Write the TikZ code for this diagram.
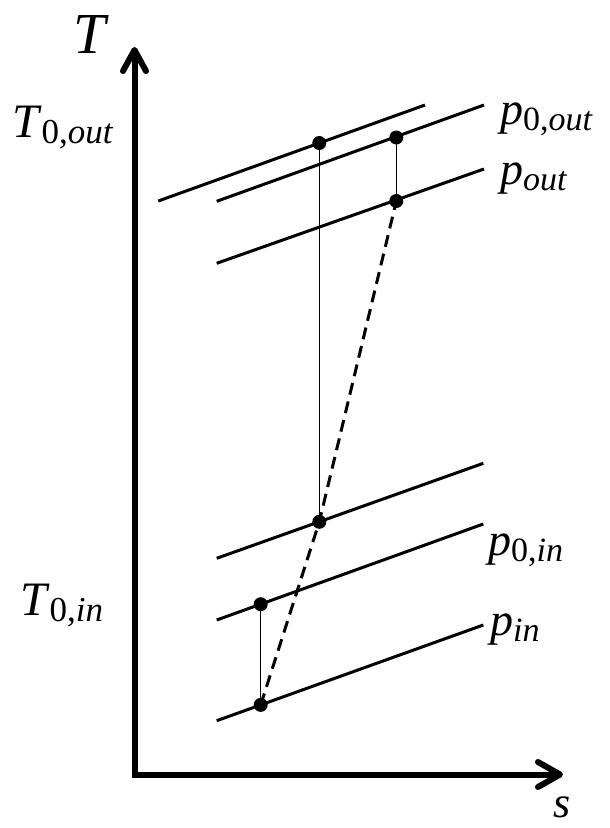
\documentclass[tikz,border=0pt]{standalone}
\usepackage{fontspec}
\setmainfont{Liberation Serif}
% main letter (italic) with a lowered, smaller subscript
\newcommand{\lblsub}[3]{\textit{#1}\raisebox{-6pt}{\fontsize{#3}{#3}\selectfont #2}}
\tikzset{
  isoline/.style={line width=3pt},
  axisline/.style={line width=6pt, line join=miter},
  tiphead/.style={line width=6pt, line cap=round, line join=round},
  thinline/.style={line width=1pt},
  dashline/.style={line width=3pt, dash pattern=on 12pt off 7pt},
  statedot/.style={circle, fill=black, inner sep=0pt, minimum size=14pt},
  lbl/.style={inner sep=0pt, anchor=base west},
  tlbl/.style={lbl, font=\fontsize{48}{56}\selectfont},
  plbl/.style={lbl, font=\fontsize{46}{54}\selectfont},
}
\begin{document}
\begin{tikzpicture}[x=1pt,y=-1pt]
\useasboundingbox (0,0) rectangle (610,828);
% axes
\coordinate (O) at (134.5,774.5);
\coordinate (Ttip) at (134.5,50);
\coordinate (Stip) at (560,774.5);
\draw[axisline] (Ttip) -- (O) -- (Stip);
\draw[tiphead] (123,71) -- (Ttip) -- (146,71);
\draw[tiphead] (538,762) -- (Stip) -- (538,787);
% isobars
\coordinate (A1) at (158.3,201);   \coordinate (A2) at (425,105);
\coordinate (B1) at (216.7,201.3); \coordinate (B2) at (484,105);
\coordinate (C1) at (216.7,263.3); \coordinate (C2) at (484,169);
\coordinate (D1) at (216.7,558.3); \coordinate (D2) at (483.3,463.3);
\coordinate (E1) at (216.7,620);   \coordinate (E2) at (483.3,524);
\coordinate (F1) at (216.7,720.7); \coordinate (F2) at (483.3,625);
\draw[isoline] (A1) -- (A2);
\draw[isoline] (B1) -- (B2);
\draw[isoline] (C1) -- (C2);
\draw[isoline] (D1) -- (D2);
\draw[isoline] (E1) -- (E2);
\draw[isoline] (F1) -- (F2);
% state points
\node[statedot] (d1) at (319.3,143) {};
\node[statedot] (d2) at (396.3,137.5) {};
\node[statedot] (d3) at (396.3,201) {};
\node[statedot] (d4) at (319.3,521.8) {};
\node[statedot] (d5) at (260.7,604.2) {};
\node[statedot] (d6) at (260.7,704.9) {};
\draw[thinline] (d1.center) -- (d4.center);
\draw[thinline] (d2.center) -- (d3.center);
\draw[thinline] (d5.center) -- (d6.center);
\draw[dashline] (d6.center) -- (d4.center) -- (d3.center);
% labels
\node[lbl, font=\fontsize{58}{64}\selectfont] (lT) at (73,53) {\textit{T}};
\node[lbl, font=\fontsize{44}{50}\selectfont] (ls) at (553,817) {\textit{s}};
\node[tlbl] (lT0out) at (12,137) {\lblsub{T}{0,\textit{out}}{35}};
\node[tlbl] (lT0in) at (20,615) {\lblsub{T}{0,\textit{in}}{35}};
\node[plbl] (lp0out) at (500,124) {\lblsub{p}{0,\textit{out}}{34}};
\node[plbl] (lpout) at (500,184) {\lblsub{p}{\textit{out}}{34}};
\node[plbl] (lp0in) at (488,555) {\lblsub{p}{0,\textit{in}}{34}};
\node[plbl] (lpin) at (490,635) {\lblsub{p}{\textit{in}}{34}};
\end{tikzpicture}
\end{document}
